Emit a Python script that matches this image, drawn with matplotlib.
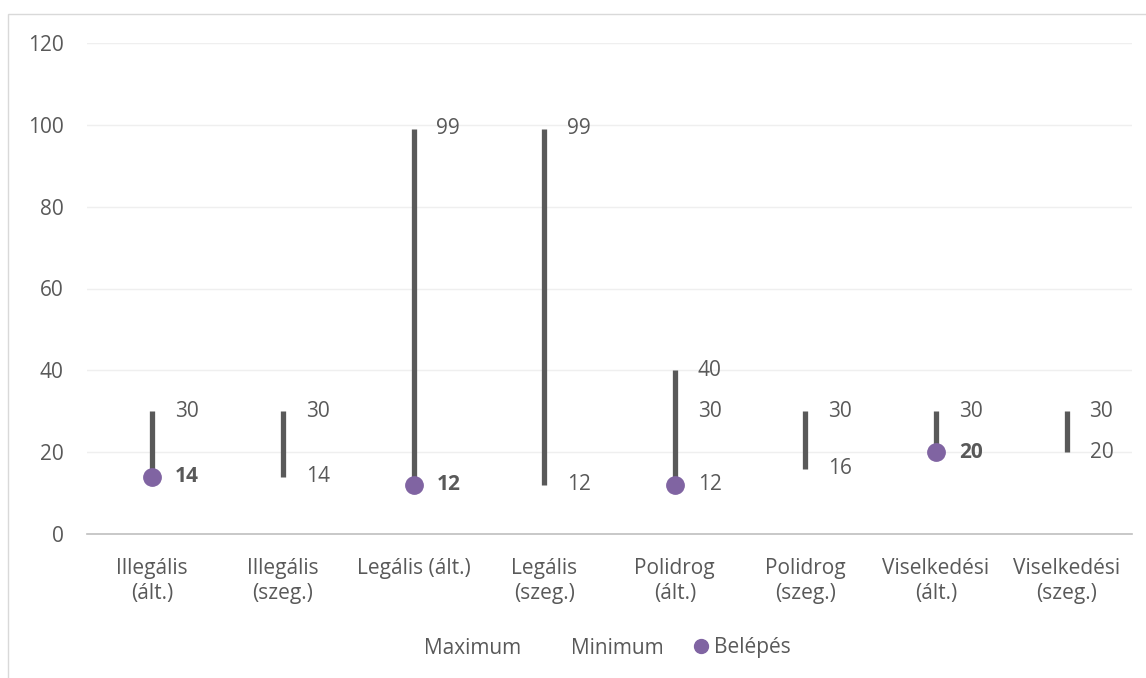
import matplotlib
matplotlib.use("Agg")
import matplotlib.pyplot as plt
from matplotlib.lines import Line2D
from matplotlib.patches import Rectangle
import numpy as np

categories = ["Illegális\n(ált.)", "Illegális\n(szeg.)", "Legális (ált.)", "Legális\n(szeg.)",
              "Polidrog\n(ált.)", "Polidrog\n(szeg.)", "Viselkedési\n(ált.)", "Viselkedési\n(szeg.)"]
maximum = [30, 30, 99, 99, 30, 30, 30, 30]
minimum = [14, 14, 12, 12, 12, 16, 20, 20]
belepes = [14, None, 12, None, 12, None, 20, None]
extra_upper = [None, None, None, None, 40, None, None, None]
bold_belepes = [True, None, True, None, False, None, True, None]
yticks = [0, 20, 40, 60, 80, 100, 120]

plt.rcParams['font.family'] = ['Open Sans', 'DejaVu Sans']
TXT = '#595959'

fig = plt.figure(figsize=(11.46, 6.78), dpi=100)
W, H = 1146, 678
ax = fig.add_axes([87 / W, 1 - 534 / H, (1132 - 87) / W, (534 - 43) / H])

# chart border
fig.patches.append(Rectangle((8 / W, -0.01), 1.2, 1 - 14 / H + 0.01, transform=fig.transFigure,
                             fill=False, edgecolor='#D9D9D9', linewidth=1.0))

x = np.arange(len(categories))
for i in x:
    vals = [maximum[i], minimum[i]]
    if belepes[i] is not None:
        vals.append(belepes[i])
    if extra_upper[i] is not None:
        vals.append(extra_upper[i])
    ax.plot([i, i], [min(vals), max(vals)], color='#595959', linewidth=3.8,
            solid_capstyle='butt', zorder=3)

bx = [i for i in x if belepes[i] is not None]
by = [belepes[i] for i in bx]
ax.plot(bx, by, 'o', color='#8064A2', markersize=12.5, zorder=4)

off = 0.175
fs = 15
for i in x:
    ax.text(i + off, maximum[i], str(maximum[i]), va='center', ha='left', fontsize=fs, color=TXT)
    if extra_upper[i] is not None:
        ax.text(i + off, extra_upper[i], str(extra_upper[i]), va='center', ha='left', fontsize=fs, color=TXT)
    if belepes[i] is not None:
        ax.text(i + off, belepes[i], str(belepes[i]), va='center', ha='left', fontsize=fs, color=TXT,
                fontweight='bold' if bold_belepes[i] else 'normal')
    else:
        ax.text(i + off, minimum[i], str(minimum[i]), va='center', ha='left', fontsize=fs, color=TXT)

ax.set_xlim(-0.5, len(categories) - 0.5)
ax.set_ylim(0, 120)
ax.set_yticks(yticks)
ax.set_xticks(x)
ax.set_xticklabels(categories, fontsize=fs, color=TXT, linespacing=1.3)
ax.tick_params(axis='y', length=0, labelsize=fs, labelcolor=TXT, pad=17)
ax.tick_params(axis='x', length=0, pad=17)
ax.grid(axis='y', color='#EFEFEF', linewidth=1.0)
ax.set_axisbelow(True)
for s in ['top', 'right', 'left']:
    ax.spines[s].set_visible(False)
ax.spines['bottom'].set_color('#BFBFBF')
ax.spines['bottom'].set_linewidth(1.2)

handles = [Line2D([], [], linestyle='none', marker=None),
           Line2D([], [], linestyle='none', marker=None),
           Line2D([], [], linestyle='none', marker='o', color='#8064A2', markersize=10)]
leg = fig.legend(handles, ['Maximum', 'Minimum', 'Belépés'], loc='center',
                 bbox_to_anchor=(598 / W, 1 - 648 / H), ncol=3, frameon=False,
                 fontsize=fs, handlelength=0.6, handletextpad=0.3, columnspacing=1.5)
for t in leg.get_texts():
    t.set_color(TXT)

fig.savefig('out.png', dpi=100)
